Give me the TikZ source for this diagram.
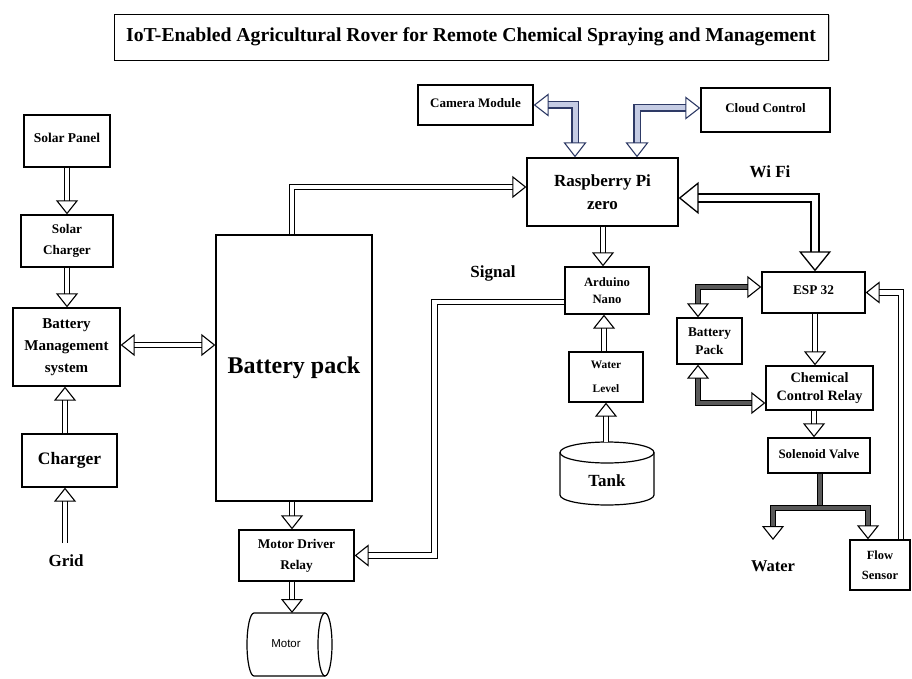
\documentclass[tikz,border=0pt]{standalone}
\usepackage{fontspec}
\setmainfont{Liberation Serif}
\newfontfamily\motorfont{Liberation Sans}
\usetikzlibrary{arrows.meta,calc,shadows}
\newcommand{\myfs}[2]{\fontsize{#1}{#2}\selectfont}
\definecolor{navy}{HTML}{2E3A66}
\definecolor{paleblue}{HTML}{C5CCE4}
\begin{document}
\begin{tikzpicture}[x=1pt,y=-1pt,
  box/.style={draw, line width=1.3pt, inner sep=0pt, align=center, font=\bfseries},
  lbl/.style={inner sep=0pt, font=\bfseries},
  arr/.style={draw=black, line width=1.1pt, double=white, double distance=4.5pt,
    >={Triangle[open,length=14pt,width=22pt,line width=1.1pt]}},
  darr/.style={arr, double=black!65},
  barr/.style={arr, draw=navy, double=paleblue, double distance=5pt,
    >={Triangle[open,length=15pt,width=23pt,line width=1.1pt]}},
  warr/.style={arr, double distance=6.5pt, line width=1.3pt,
    >={Triangle[open,length=20pt,width=32pt,line width=1.3pt]}}
]
\useasboundingbox (0,0) rectangle (912,679);

% title
\node[box, line width=0.8pt, fill=white, minimum width=714, minimum height=46,
  drop shadow={shadow xshift=1.5pt, shadow yshift=-1.5pt, fill=black!45},
  font=\bfseries\myfs{19.7}{22}] (title) at (471,37)
  {IoT-Enabled Agricultural Rover for Remote Chemical Spraying and Management};

% left column
\node[box, minimum width=86, minimum height=52, font=\bfseries\myfs{13.5}{16}] (solar) at (67,141) {\raisebox{6pt}{Solar Panel}};
\node[box, minimum width=92, minimum height=52, font=\bfseries\myfs{13.2}{21}] (solarch) at (67,241) {Solar\\Charger};
\node[box, minimum width=107, minimum height=78, font=\bfseries\myfs{15}{22}] (bms) at (66.5,347) {Battery\\Management\\system};
\node[box, minimum width=95, minimum height=53, font=\bfseries\myfs{17.5}{20}] (charger) at (69.5,460.5) {\raisebox{4pt}{Charger}};
\node[lbl, font=\bfseries\myfs{17}{20}] (grid) at (66,561) {Grid};
\coordinate (gridtop) at (65,543);

% battery pack and motor
\node[box, minimum width=156, minimum height=266, font=\bfseries\myfs{24}{28}] (battery) at (294,368) {\raisebox{6pt}{Battery pack}};
\node[box, minimum width=115, minimum height=51, font=\bfseries\myfs{13.3}{21}] (motordrv) at (296.5,555.5) {Motor Driver\\Relay};
\draw[line width=1.2pt] (325,613) -- (254,613) arc[start angle=270, end angle=90, x radius=7, y radius=31.5] -- (325,676);
\draw[line width=1.2pt] (325,644.5) ellipse [x radius=7, y radius=31.5];
\node[inner sep=0pt, font=\motorfont\myfs{11.5}{14}] (motor) at (286,644) {Motor};
\coordinate (motortop) at (292,613);

% raspberry cluster
\node[box, minimum width=151, minimum height=68, font=\bfseries\myfs{17}{23}] (rpi) at (602.5,192) {Raspberry Pi\\zero};
\node[box, minimum width=115, minimum height=40, font=\bfseries\myfs{13}{16}] (camera) at (475.5,105) {\raisebox{4pt}{Camera Module}};
\node[box, minimum width=129, minimum height=44, font=\bfseries\myfs{13}{16}] (cloud) at (765.5,110) {\raisebox{4pt}{Cloud Control}};
\node[box, minimum width=84, minimum height=47, font=\bfseries\myfs{12.7}{17}] (arduino) at (607,290.5) {Arduino\\Nano};
\node[box, minimum width=74, minimum height=50, font=\bfseries\myfs{11.4}{24}] (wl) at (606,377) {Water\\Level};
\draw[line width=1.2pt] (607,452.5) ellipse [x radius=47, y radius=10.5];
\draw[line width=1.2pt] (560,452.5) -- (560,495) arc[start angle=180, end angle=0, x radius=47, y radius=10] -- (654,452.5);
\node[lbl, font=\bfseries\myfs{17}{20}] (tank) at (607,481) {Tank};
\coordinate (tanktop) at (606,442);
\node[lbl, font=\bfseries\myfs{17}{20}] (signal) at (493,273) {Signal};
\node[lbl, font=\bfseries\myfs{17}{20}] (wifi) at (770,172) {Wi Fi};

% right cluster
\node[box, minimum width=103, minimum height=41, font=\bfseries\myfs{13.3}{16}] (esp) at (813.5,292.5) {\raisebox{5pt}{ESP 32}};
\node[box, minimum width=65, minimum height=46, font=\bfseries\myfs{13.3}{18}] (bpack) at (709.5,341) {Battery\\Pack};
\node[box, minimum width=107, minimum height=44, font=\bfseries\myfs{14.3}{18}] (ccr) at (819.5,388) {Chemical\\Control Relay};
\node[box, minimum width=102, minimum height=35, font=\bfseries\myfs{12.9}{16}] (sv) at (819,455.5) {\raisebox{2pt}{Solenoid Valve}};
\node[box, minimum width=60, minimum height=50, font=\bfseries\myfs{12.5}{20}] (flow) at (880,565) {Flow\\Sensor};
\node[lbl, font=\bfseries\myfs{16.5}{20}] (water) at (773,566) {Water};
\coordinate (junc) at (820,508);
\coordinate (wtip) at (773,540);

% connectors: left
\draw[arr,->] (solar.south) -- (solar.south |- solarch.north);
\draw[arr,->] (solarch.south) -- (solarch.south |- bms.north);
\draw[arr,->] (gridtop) -- (gridtop |- charger.south);
\draw[arr,->] (charger.north -| gridtop) -- (bms.south -| gridtop);
\draw[arr,<->] ([yshift=2pt]bms.east) -- ([yshift=2pt]bms.east -| battery.west);
\draw[arr,->] ([xshift=-2pt]battery.north) |- ([yshift=5pt]rpi.west);
\draw[arr,->] ([xshift=-2pt]battery.south) -- ([xshift=-2pt]battery.south |- motordrv.north);
\draw[arr,->] (motortop |- motordrv.south) -- (motortop);
\draw[arr,->] ([yshift=-11.5pt]arduino.west) -- ++(-130,0) |- (motordrv.east);

% connectors: raspberry
\draw[arr,->] ([xshift=-4pt]arduino.north |- rpi.south) -- ([xshift=-4pt]arduino.north);
\draw[arr,->] ([xshift=-2pt]wl.north) -- ([xshift=-2pt]wl.north |- arduino.south);
\draw[arr,->] (tanktop) -- (tanktop |- wl.south);
\draw[barr,<->] (camera.east) -| ([xshift=-27.5pt]rpi.north);
\draw[barr,<->] ([xshift=34.5pt]rpi.north) |- ([yshift=2pt]cloud.west);
\draw[warr,<->] ([yshift=-6pt]rpi.east) -| ([xshift=1.5pt]esp.north);

% connectors: right
\draw[darr,<->] ([xshift=-11.5pt]bpack.north) |- ([yshift=5.5pt]esp.west);
\draw[darr,<->] ([xshift=-11.5pt]bpack.south) |- ([yshift=-15pt]ccr.west);
\draw[arr,->] ([xshift=1.5pt]esp.south) -- ([xshift=1.5pt]esp.south |- ccr.north);
\draw[arr,->] ([xshift=-5.5pt]ccr.south) -- ([xshift=-5.5pt]ccr.south |- sv.north);
\draw[darr] ([xshift=1pt]sv.south) -- (junc);
\draw[darr,->] (junc) -| (wtip);
\draw[darr,->] (junc) -| ([xshift=-12pt]flow.north);
\draw[arr,->] ([xshift=21pt]flow.north) |- (esp.east);
\end{tikzpicture}
\end{document}
